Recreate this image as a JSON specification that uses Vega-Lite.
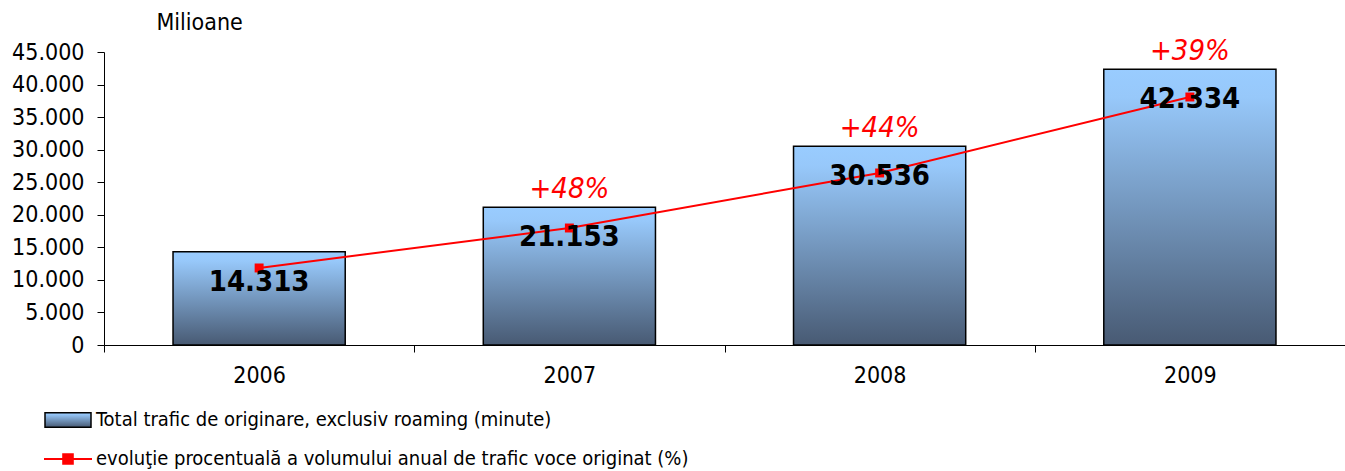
{
  "$schema": "https://vega.github.io/schema/vega-lite/v6.json",
  "autosize": {"type": "none"},
  "width": 1241,
  "height": 293,
  "padding": {"left": 104, "top": 52, "right": 0, "bottom": 126},
  "background": "white",
  "config": {
    "view": {"stroke": null},
    "locale": {"number": {"decimal": ",", "thousands": ".", "grouping": [3], "currency": ["", ""]}},
    "font": "DejaVu Sans Condensed",
    "axis": {
      "labelFont": "DejaVu Sans Condensed",
      "labelFontSize": 23,
      "labelColor": "black",
      "domainColor": "black",
      "tickColor": "black",
      "domainWidth": 1,
      "tickWidth": 1,
      "grid": false,
      "labelOverlap": false
    },
    "axisY": {"labelOverlap": false},
    "axisQuantitative": {"labelOverlap": false},
    "legend": {
      "labelFont": "DejaVu Sans Condensed",
      "labelFontSize": 20,
      "labelColor": "black",
      "labelLimit": 0
    }
  },
  "data": {
    "values": [
      {"an": "2006", "trafic": 14313, "evolutie": 11830, "crestere": ""},
      {"an": "2007", "trafic": 21153, "evolutie": 17970, "crestere": "+48%"},
      {"an": "2008", "trafic": 30536, "evolutie": 26420, "crestere": "+44%"},
      {"an": "2009", "trafic": 42334, "evolutie": 38090, "crestere": "+39%"}
    ]
  },
  "encoding": {
    "x": {
      "field": "an",
      "type": "nominal",
      "scale": {"paddingInner": 0, "paddingOuter": 0},
      "axis": {"title": null, "labelAngle": 0, "tickBand": "extent", "tickSize": 7, "labelPadding": 12}
    },
    "y": {
      "field": "trafic",
      "type": "quantitative",
      "scale": {"domain": [0, 45000], "nice": false},
      "axis": {
        "values": [0, 5000, 10000, 15000, 20000, 25000, 30000, 35000, 40000, 45000],
        "format": ",d",
        "labelOverlap": false,
        "tickSize": 7,
        "labelPadding": 13,
        "title": "Milioane",
        "titleAngle": 0,
        "titleAlign": "left",
        "titleBaseline": "middle",
        "titleX": 52,
        "titleY": -30,
        "titleFont": "DejaVu Sans Condensed",
        "titleFontSize": 23,
        "titleFontWeight": "normal",
        "titleColor": "black"
      }
    }
  },
  "layer": [
    {
      "mark": {
        "type": "bar",
        "width": {"band": 0.555},
        "strokeWidth": 1.5,
        "color": {
          "gradient": "linear", "x1": 0, "y1": 0, "x2": 0, "y2": 1,
          "stops": [
            {"offset": 0, "color": "#99CCFF"},
            {"offset": 0.1, "color": "#97C8FA"},
            {"offset": 1, "color": "#485A73"}
          ]
        }
      },
      "encoding": {
        "stroke": {
          "datum": "Total trafic de originare, exclusiv roaming (minute)",
          "type": "nominal",
          "scale": {"domain": ["Total trafic de originare, exclusiv roaming (minute)"], "range": ["black"]},
          "legend": {
            "title": null,
            "orient": "none",
            "direction": "vertical",
            "legendX": -46,
            "legendY": 358,
            "padding": 0,
            "symbolSize": 256,
            "symbolType": "M-2.875,-0.9H2.875V0.9H-2.875Z",
            "symbolStrokeWidth": 1.5,
            "symbolOpacity": 1,
            "labelOffset": 18
          }
        }
      }
    },
    {
      "mark": {
        "type": "line",
        "strokeWidth": 2,
        "point": {"shape": "square", "size": 80, "filled": true, "color": "red"}
      },
      "encoding": {
        "y": {
          "field": "evolutie",
          "type": "quantitative",
          "axis": {
            "values": [0, 5000, 10000, 15000, 20000, 25000, 30000, 35000, 40000, 45000],
            "format": ",d",
            "labelOverlap": false,
            "tickSize": 7,
            "labelPadding": 13,
            "title": "Milioane",
            "titleAngle": 0,
            "titleAlign": "left",
            "titleBaseline": "middle",
            "titleX": 52,
            "titleY": -30,
            "titleFont": "DejaVu Sans Condensed",
            "titleFontSize": 23,
            "titleFontWeight": "normal",
            "titleColor": "black"
          }
        },
        "color": {
          "datum": "evoluţie procentuală a volumului anual de trafic voce originat (%)",
          "type": "nominal",
          "scale": {"domain": ["evoluţie procentuală a volumului anual de trafic voce originat (%)"], "range": ["red"]},
          "legend": {
            "title": null,
            "orient": "none",
            "direction": "vertical",
            "legendX": -46,
            "legendY": 397,
            "padding": 0,
            "symbolSize": 256,
            "symbolType": "M-3,0H3M-0.6,-0.6H0.6V0.6H-0.6Z",
            "symbolFillColor": "red",
            "symbolStrokeColor": "red",
            "symbolStrokeWidth": 2,
            "symbolOpacity": 1,
            "labelOffset": 18
          }
        }
      }
    },
    {
      "mark": {
        "type": "text",
        "font": "DejaVu Sans Condensed",
        "fontSize": 29,
        "fontWeight": "bold",
        "color": "black",
        "baseline": "middle",
        "dy": 30
      },
      "encoding": {
        "text": {"field": "trafic", "type": "quantitative", "format": ",d"}
      }
    },
    {
      "mark": {
        "type": "text",
        "font": "DejaVu Sans Condensed",
        "fontSize": 29,
        "fontStyle": "italic",
        "color": "red",
        "baseline": "alphabetic",
        "dy": -9
      },
      "encoding": {
        "text": {"field": "crestere", "type": "nominal"}
      }
    }
  ]
}
